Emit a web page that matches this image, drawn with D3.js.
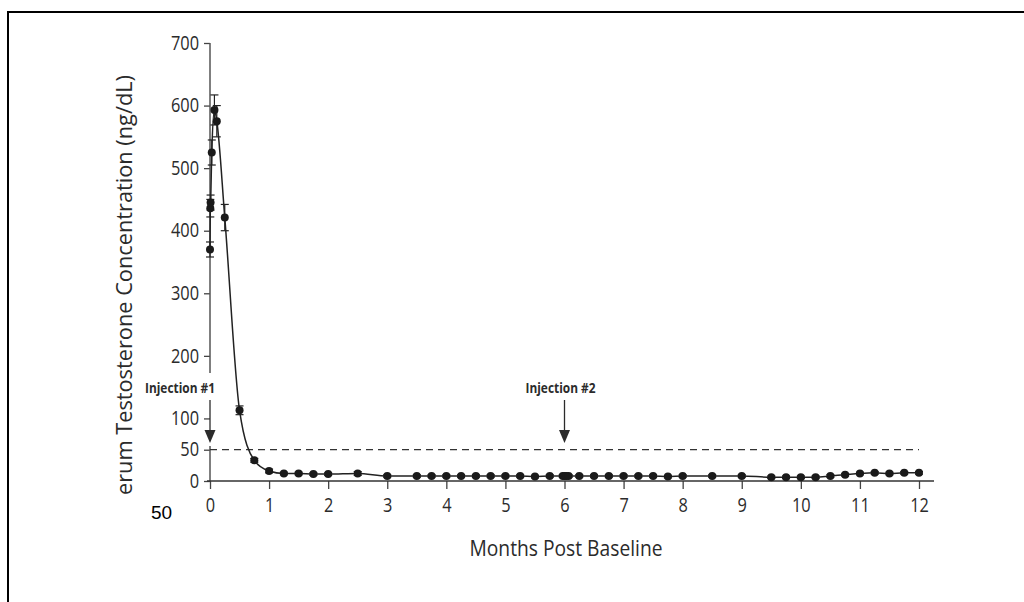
<!DOCTYPE html>
<html>
<head>
<meta charset="utf-8">
<script src="https://cdn.jsdelivr.net/npm/d3@7"></script>
<style>
  html, body { margin: 0; padding: 0; background: #fff; }
  svg { display: block; }
</style>
</head>
<body>
<svg id="chart" width="1024" height="602"></svg>
<script>
// ---- data ----
const months = [0, 0.005, 0.01, 0.03, 0.075, 0.115, 0.25, 0.5, 0.75, 1, 1.25, 1.5, 1.75, 2, 2.5, 3,
  3.5, 3.75, 4, 4.25, 4.5, 4.75, 5, 5.25, 5.5, 5.75, 5.97, 6, 6.03, 6.07, 6.25, 6.5, 6.75, 7, 7.25,
  7.5, 7.75, 8, 8.5, 9, 9.5, 9.75, 10, 10.25, 10.5, 10.75, 11, 11.25, 11.5, 11.75, 12];
const testosterone = [370, 436, 445, 525, 593, 575, 421, 113, 33, 16, 12, 12, 11, 11, 12, 8,
  8, 8, 8, 8, 8, 8, 8, 8, 7, 8, 8, 8, 8, 8, 8, 8, 8, 8, 8,
  8, 7, 8, 8, 8, 6, 6, 6, 6, 8, 10, 12, 13, 12, 13, 13];
const errors = [12, 14, 12, 20, 24, 25, 21, 7, 3, 3, 2, 2, 2, 2, 3, 2,
  2, 2, 2, 2, 2, 2, 2, 2, 2, 2, 2, 2, 2, 2, 2, 2, 2, 2, 2,
  2, 2, 2, 2, 2, 2, 2, 2, 2, 2, 2, 2, 2, 2, 2, 2];
const yTicks = [0, 50, 100, 200, 300, 400, 500, 600, 700];
const xTicks = [0, 1, 2, 3, 4, 5, 6, 7, 8, 9, 10, 11, 12];
const threshold = 50;
const injections = [{month: 0, label: "Injection #1"}, {month: 6, label: "Injection #2"}];
const xTitle = "Months Post Baseline";
const yTitle = "Serum Testosterone Concentration (ng/dL)";
const strayLabel = "50";

// ---- layout ----
const svg = d3.select("#chart");
const x = d3.scaleLinear().domain([0, 12]).range([210, 919]);
const y = d3.scaleLinear().domain([0, 700]).range([481, 43]);
const ink = "#2b2b2b";
const font = "'Open Sans', 'Noto Sans', sans-serif";

// horizontally condense text around its own x anchor
function condense(sel, f) {
  sel.each(function() {
    const t = d3.select(this);
    const tx = +t.attr("x") || 0;
    t.attr("transform", `translate(${tx},0) scale(${f},1) translate(${-tx},0)`);
  });
}

// frame lines
svg.append("line").attr("x1", 8).attr("x2", 1024).attr("y1", 12).attr("y2", 12)
  .attr("stroke", "#000").attr("stroke-width", 2);
svg.append("line").attr("x1", 8).attr("x2", 8).attr("y1", 11).attr("y2", 602)
  .attr("stroke", "#000").attr("stroke-width", 2);

// y axis
const yAxis = svg.append("g").attr("transform", "translate(210,0)")
  .call(d3.axisLeft(y).tickValues(yTicks).tickSize(6).tickPadding(5).tickFormat(d3.format("d")));
yAxis.select(".domain").remove();
yAxis.selectAll("line").attr("stroke", "#444").attr("stroke-width", 1.3);
yAxis.selectAll("text").attr("font-family", font).attr("font-size", 19.5).attr("fill", ink)
  .call(condense, 0.84);
// y axis line (broken where the injection #1 marker sits)
svg.append("line").attr("x1", x(0)).attr("x2", x(0)).attr("y1", y(700)).attr("y2", 373)
  .attr("stroke", "#555").attr("stroke-width", 1.5);
svg.append("line").attr("x1", x(0)).attr("x2", x(0)).attr("y1", 446).attr("y2", y(0) + 1)
  .attr("stroke", "#555").attr("stroke-width", 1.5);

// x axis
const xAxis = svg.append("g").attr("transform", `translate(0,${y(0)})`)
  .call(d3.axisBottom(x).tickValues(xTicks).tickSize(8).tickPadding(9).tickFormat(d3.format("d")));
xAxis.select(".domain").remove();
xAxis.selectAll("line").attr("stroke", "#444").attr("stroke-width", 1.3);
xAxis.selectAll("text").attr("font-family", font).attr("font-size", 19.5).attr("fill", ink)
  .call(condense, 0.84);
svg.append("line").attr("x1", 207).attr("x2", 934).attr("y1", y(0)).attr("y2", y(0))
  .attr("stroke", "#333").attr("stroke-width", 1.6);

// threshold dashed line
svg.append("line").attr("x1", x(0)).attr("x2", x(12)).attr("y1", y(threshold)).attr("y2", y(threshold))
  .attr("stroke", "#333").attr("stroke-width", 1.2).attr("stroke-dasharray", "7,5");

// injection markers
const inj = svg.append("g");
injections.forEach(d => {
  const cx = x(d.month);
  inj.append("text").attr("x", d.month === 0 ? cx - 30 : cx - 4).attr("y", 393)
    .attr("text-anchor", "middle").attr("font-family", font).attr("font-weight", "bold")
    .attr("font-size", 14).attr("fill", ink)
    .attr("textLength", 70).attr("lengthAdjust", "spacingAndGlyphs").text(d.label);
  inj.append("line").attr("x1", cx).attr("x2", cx).attr("y1", 400).attr("y2", 432)
    .attr("stroke", ink).attr("stroke-width", 1.3);
  inj.append("path").attr("d", `M${cx - 5.5},${430} L${cx + 5.5},${430} L${cx},${443} Z`).attr("fill", ink);
});

// data line
const pts = months.map((m, i) => ({m, v: testosterone[i], e: errors[i]}));
const line = d3.line().x(d => x(d.m)).y(d => y(d.v)).curve(d3.curveMonotoneX);
svg.append("path").datum(pts).attr("d", line).attr("fill", "none")
  .attr("stroke", "#222").attr("stroke-width", 1.5);

// error bars
const eb = svg.append("g").attr("stroke", "#222").attr("stroke-width", 1.2);
pts.forEach(d => {
  const cx = x(d.m);
  eb.append("line").attr("x1", cx).attr("x2", cx).attr("y1", y(d.v + d.e)).attr("y2", y(d.v - d.e));
  eb.append("line").attr("x1", cx - 4).attr("x2", cx + 4).attr("y1", y(d.v + d.e)).attr("y2", y(d.v + d.e));
  eb.append("line").attr("x1", cx - 4).attr("x2", cx + 4).attr("y1", y(d.v - d.e)).attr("y2", y(d.v - d.e));
});

// markers
svg.append("g").selectAll("circle").data(pts).join("circle")
  .attr("cx", d => x(d.m)).attr("cy", d => y(d.v)).attr("r", 4).attr("fill", "#1a1a1a");

// titles
svg.append("text").attr("x", 566).attr("y", 556).attr("text-anchor", "middle")
  .attr("font-family", font).attr("font-size", 22).attr("fill", ink)
  .attr("textLength", 193).attr("lengthAdjust", "spacingAndGlyphs").text(xTitle);

svg.append("defs").append("clipPath").attr("id", "yclip")
  .append("rect").attr("x", 0).attr("y", 20).attr("width", 200).attr("height", 476);
svg.append("g").attr("clip-path", "url(#yclip)")
  .append("text").attr("transform", "translate(132,75) rotate(-90)").attr("text-anchor", "end")
  .attr("font-family", font).attr("font-size", 21).attr("fill", ink)
  .attr("textLength", 432).attr("lengthAdjust", "spacingAndGlyphs")
  .text(yTitle);

// stray label
svg.append("text").attr("x", 151).attr("y", 519).attr("font-family", "'Liberation Sans', Arial, sans-serif")
  .attr("font-size", 19).attr("fill", "#000").text(strayLabel);
</script>
</body>
</html>
